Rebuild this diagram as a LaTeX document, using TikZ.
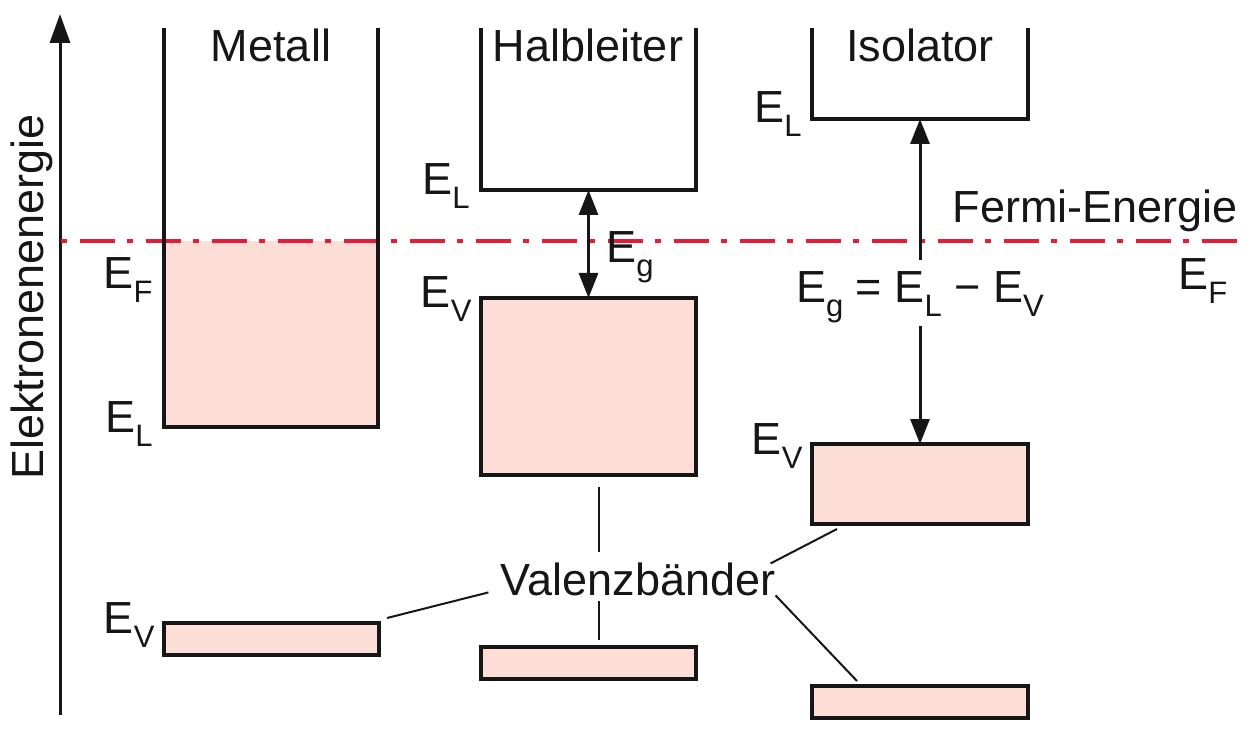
\documentclass[tikz,border=0pt]{standalone}
\usepackage{fontspec}
\setmainfont{Liberation Sans}
\usetikzlibrary{calc,arrows.meta}

\definecolor{bandpink}{RGB}{253,222,214}
\definecolor{fermired}{RGB}{227,28,58}
\definecolor{ink}{RGB}{22,22,22}

\newcommand{\lowidx}[1]{\raisebox{-7pt}{\fontsize{15.5}{16}\selectfont #1}}
\newcommand{\lev}[1]{E\lowidx{#1}}

\tikzset{
  well/.style={draw=ink,line width=1.7pt},
  bandbox/.style 2 args={draw=ink,line width=1.7pt,fill=bandpink,inner sep=0pt,outer sep=0pt,
    anchor=north west,minimum width=#1,minimum height=#2},
  lbl/.style={inner sep=0pt,text=ink},
  leader/.style={draw=ink,line width=1pt},
  gaparrow/.style={draw=ink,line width=1.5pt},
  fermi/.style={draw=fermired,line width=2pt,
    dash pattern=on 17.5pt off 6pt on 3pt off 6.5pt,dash phase=23pt},
}

\begin{document}
\begin{tikzpicture}[x=0.5pt,y=-0.5pt,font=\fontsize{22.5}{27}\selectfont]
  \useasboundingbox (0,0) rectangle (1252,732);

  %% Energy axis
  \draw[ink,line width=1.5pt,-{Triangle[length=14.5pt,width=10pt]}] (60,715) -- (60,14);
  \node[lbl,rotate=90,anchor=base] (axis) at (43,297) {Elektronenenergie};

  %% Bands: filled parts
  \fill[bandpink] (164,241) rectangle (378,427);
  \node[bandbox={107.5pt}{16pt}] (mvb) at (164,623) {};
  \node[bandbox={107.5pt}{88.5pt}] (hvb) at (481,298) {};
  \node[bandbox={107.5pt}{16pt}] (hbot) at (481,647) {};
  \node[bandbox={108pt}{40pt}] (ivb) at (812,444) {};
  \node[bandbox={108pt}{16pt}] (ibot) at (812,686) {};

  %% Fermi level
  \draw[fermi] (60,241) -- (1238,241);

  %% Open conduction bands
  \draw[well] (164,28) -- (164,427) -- (378,427) -- (378,28);
  \draw[well] (481,28) -- (481,190) -- coordinate (hcb) (696,190) -- (696,28);
  \draw[well] (812,28) -- (812,119) -- coordinate (icb) (1028,119) -- (1028,28);

  %% Titles
  \node[lbl,anchor=base] (metall) at (271,62) {Metall};
  \node[lbl,anchor=base] (halb) at (588,62) {Halbleiter};
  \node[lbl,anchor=base] (iso) at (920,62) {Isolator};

  %% Level labels
  \node[lbl,anchor=base east] (mEF) at (153,289) {\lev{F}};
  \node[lbl,anchor=base east] (mEL) at (153,432) {\lev{L}};
  \node[lbl,anchor=base east] (mEV) at (155,633) {\lev{V}};
  \node[lbl,anchor=base east] (hEL) at (470,195) {\lev{L}};
  \node[lbl,anchor=base east] (hEV) at (472,308) {\lev{V}};
  \node[lbl,anchor=base east] (iEL) at (802,123) {\lev{L}};
  \node[lbl,anchor=base east] (iEV) at (803,454) {\lev{V}};
  \node[lbl,anchor=base west] (hEg) at (606,263) {\lev{g}};
  \node[lbl,anchor=base east] (fermitxt) at (1238,223) {Fermi-Energie};
  \node[lbl,anchor=base west] (rEF) at (1178,290) {\lev{F}};
  \node[lbl,anchor=base] (isogap) at (920,303) {\lev{g} = \lev{L} − \lev{V}};
  \node[lbl,anchor=base] (valenz) at (638,595) {Valenzbänder};

  %% Gap arrows
  \draw[gaparrow,{Triangle[length=12.5pt,width=9.5pt]}-{Triangle[length=12.5pt,width=9.5pt]}]
    (hcb) -- (hvb.north);
  \draw[gaparrow,-{Triangle[length=12.5pt,width=9.5pt]}] ($(isogap.north)+(0,-12)$) -- (icb);
  \draw[gaparrow,-{Triangle[length=12.5pt,width=9.5pt]}] ($(isogap.south)+(0,2)$) -- (ivb.north);

  %% Leaders to the valence bands
  \draw[leader] ($(valenz.north)+(-39,-10)$) -- ($(hvb.south)+(10.5,12)$);
  \draw[leader] ($(valenz.south)+(-39,5)$) -- ($(hbot.north)+(10.5,-7)$);
  \draw[leader] ($(valenz.west)+(-12,13.5)$) -- ($(mvb.east)+(8,-21)$);
  \draw[leader] ($(valenz.east)+(-5,-15.5)$) -- ($(ivb.south west)+(25,5)$);
  \draw[leader] ($(valenz.east)+(0,16.5)$) -- ($(ibot.north west)+(45,-5)$);
\end{tikzpicture}
\end{document}
